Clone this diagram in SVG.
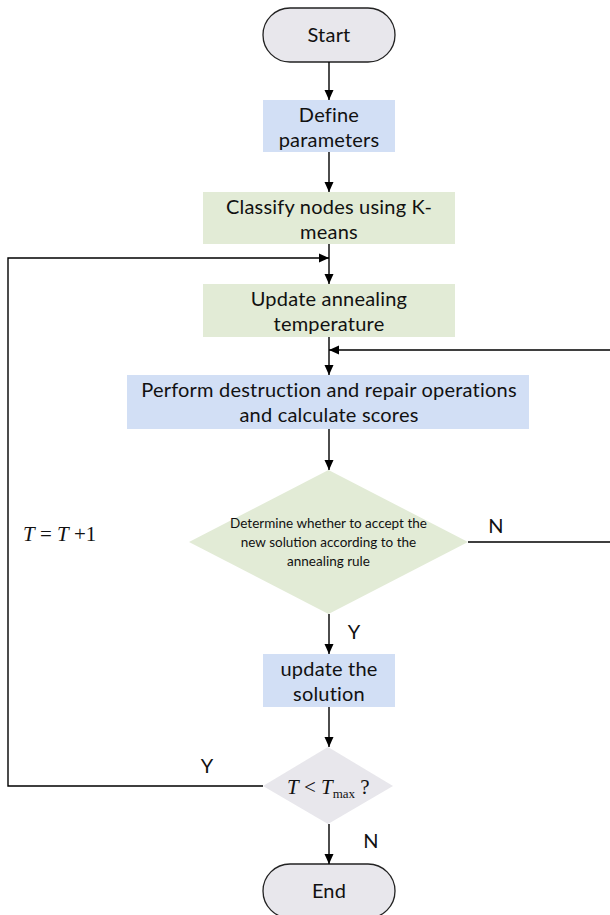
<svg xmlns="http://www.w3.org/2000/svg" width="610" height="915" viewBox="0 0 610 915">
<style>
.t{font-family:Lato,"Open Sans",sans-serif;font-size:20px;letter-spacing:0.2px;fill:#111;text-anchor:middle}
.s{font-family:Lato,"Open Sans",sans-serif;font-size:13.5px;fill:#111;text-anchor:middle}
.m{font-family:"Liberation Serif",serif;font-size:21px;fill:#111}
.ln{fill:none;stroke:#000;stroke-width:1.4}
.term{fill:#E8E7EC;stroke:#222;stroke-width:1.3}
.blue{fill:#D2DFF5}
.green{fill:#E2EBD6}
.gray{fill:#E8E7EC}
</style>
<defs>
<marker id="ah" markerWidth="10" markerHeight="10" refX="10" refY="5" orient="auto" markerUnits="userSpaceOnUse">
<path d="M0,0.5 L10,5 L0,9.5 Z" fill="#000"/>
</marker>
</defs>
<g id="start"><rect class="term" x="263" y="8" width="132" height="54" rx="27"/><text class="t" x="329" y="42">Start</text></g>
<g id="define"><rect class="blue" x="263" y="100" width="132" height="52"/><text class="t" x="329" y="122">Define</text><text class="t" x="329" y="147">parameters</text></g>
<g id="classify"><rect class="green" x="203" y="192" width="252" height="52"/><text class="t" x="329" y="214">Classify nodes using K-</text><text class="t" x="329" y="239">means</text></g>
<g id="update-temp"><rect class="green" x="203" y="284" width="252" height="53"/><text class="t" x="329" y="306">Update annealing</text><text class="t" x="329" y="331">temperature</text></g>
<g id="perform"><rect class="blue" x="127" y="375" width="402" height="54"/><text class="t" x="329" y="397">Perform destruction and repair operations</text><text class="t" x="329" y="422">and calculate scores</text></g>
<g id="accept"><polygon class="green" points="328.5,470 468,542 328.5,614 189,542"/><text class="s" x="328.5" y="528">Determine whether to accept the</text><text class="s" x="328.5" y="547">new solution according to the</text><text class="s" x="328.5" y="566">annealing rule</text></g>
<g id="update-sol"><rect class="blue" x="263" y="654" width="132" height="53"/><text class="t" x="329" y="676">update the</text><text class="t" x="329" y="701">solution</text></g>
<g id="check"><polygon class="gray" points="328,747 393,786 328,824 263,786"/><text class="m" x="287" y="794"><tspan font-style="italic">T</tspan> &lt; <tspan font-style="italic">T</tspan><tspan font-size="13" dy="4">max</tspan><tspan dy="-4"> ?</tspan></text></g>
<g id="end"><rect class="term" x="263" y="864" width="132" height="54" rx="27"/><text class="t" x="329" y="898">End</text></g>
<g id="connectors">
<line class="ln" x1="329" y1="62" x2="329" y2="100" marker-end="url(#ah)"/>
<line class="ln" x1="329" y1="152" x2="329" y2="192" marker-end="url(#ah)"/>
<line class="ln" x1="329" y1="244" x2="329" y2="284" marker-end="url(#ah)"/>
<line class="ln" x1="329" y1="337" x2="329" y2="375" marker-end="url(#ah)"/>
<line class="ln" x1="329" y1="429" x2="329" y2="470" marker-end="url(#ah)"/>
<line class="ln" x1="329" y1="614" x2="329" y2="654" marker-end="url(#ah)"/>
<line class="ln" x1="329" y1="707" x2="329" y2="747" marker-end="url(#ah)"/>
<line class="ln" x1="329" y1="824" x2="329" y2="864" marker-end="url(#ah)"/>
<polyline class="ln" points="263,786 8,786 8,258 329,258" marker-end="url(#ah)"/>
<polyline class="ln" points="468,542 611,542 611,350 329,350" marker-end="url(#ah)"/>
<text class="t" x="496" y="533">N</text>
<text class="t" x="354" y="639">Y</text>
<text class="t" x="207" y="773">Y</text>
<text class="t" x="371" y="848">N</text>
<text class="m" x="23" y="541"><tspan font-style="italic">T</tspan> = <tspan font-style="italic">T</tspan> +1</text>
</g>
</svg>
